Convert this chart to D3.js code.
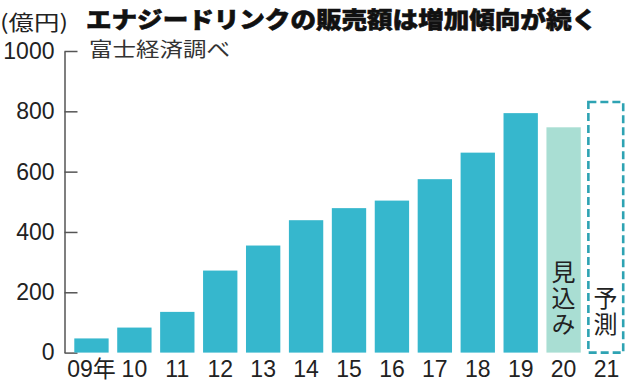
<!DOCTYPE html>
<html><head><meta charset="utf-8">
<script src="https://cdn.jsdelivr.net/npm/d3@7"></script>
<style>
html,body{margin:0;padding:0;background:#fff;}
svg{display:block;}
</style></head>
<body>
<svg id="chart" width="640" height="382"></svg>
<script>
const categories = ["09年","10","11","12","13","14","15","16","17","18","19","20","21"];
const values = [47, 83, 135, 272, 355, 439, 479, 504, 575, 663, 794, 747, 831];
const kinds = ["actual","actual","actual","actual","actual","actual","actual","actual","actual","actual","actual","estimate","forecast"];
const yTicks = [0, 200, 400, 600, 800, 1000];
const notes = {estimate: "見込み", forecast: "予測"};
const title = "エナジードリンクの販売額は増加傾向が続く";
const unitLabel = "(億円)";
const sourceLabel = "富士経済調べ";

const svg = d3.select("#chart");
const jp = "'Noto Sans CJK JP', sans-serif";
const num = "'Liberation Sans', Arial, 'Noto Sans CJK JP', sans-serif";

const x = d3.scaleBand().domain(categories).range([70, 628]).paddingInner(0.2).paddingOuter(0.1);
const y = d3.scaleLinear().domain([0, 1000]).range([352.6, 51]);

const colors = {actual: "#36b7cd", estimate: "#a9ded3", forecast: "#2ea3b3"};

const data = categories.map((c, i) => ({c, v: values[i], k: kinds[i]}));

// y axis
const yAxis = svg.append("g")
  .attr("transform", "translate(64.5,0)")
  .call(d3.axisLeft(y).tickValues(yTicks).tickFormat(d3.format("d"))
    .tickSize(-13).tickSizeOuter(0).tickPadding(10));
yAxis.select(".domain").attr("stroke", "#555").attr("stroke-width", 1.5);
yAxis.selectAll(".tick line").attr("stroke", "#555").attr("stroke-width", 1.5);
yAxis.selectAll(".tick text")
  .attr("font-family", num).attr("font-size", 23).attr("fill", "#222");

// bars
svg.append("g").selectAll("rect.bar")
  .data(data.filter(d => d.k !== "forecast"))
  .join("rect")
  .attr("class", "bar")
  .attr("x", d => x(d.c))
  .attr("width", x.bandwidth())
  .attr("y", d => y(d.v))
  .attr("height", d => y(0) - y(d.v))
  .attr("fill", d => colors[d.k]);

// forecast dashed box
svg.append("g").selectAll("rect.fc")
  .data(data.filter(d => d.k === "forecast"))
  .join("rect")
  .attr("class", "fc")
  .attr("x", d => x(d.c) - 1)
  .attr("width", x.bandwidth() + 0.5)
  .attr("y", d => y(d.v))
  .attr("height", d => y(0) - y(d.v))
  .attr("fill", "none")
  .attr("stroke", colors.forecast)
  .attr("stroke-width", 2.6)
  .attr("stroke-dasharray", "8,4");

// vertical notes
svg.append("g").selectAll("text.note")
  .data(data.filter(d => notes[d.k]))
  .join("text")
  .attr("class", "note")
  .attr("x", d => x(d.c) + x.bandwidth() / 2 - (d.k === "forecast" ? 1 : 0))
  .attr("y", 338)
  .attr("writing-mode", "vertical-rl")
  .attr("text-anchor", "end")
  .attr("letter-spacing", 2)
  .attr("font-family", jp)
  .attr("font-size", 24)
  .attr("fill", "#222")
  .text(d => notes[d.k]);

// x axis labels
const xAxis = svg.append("g")
  .attr("transform", `translate(0,${y(0)})`)
  .call(d3.axisBottom(x).tickSize(0).tickPadding(8));
xAxis.select(".domain").remove();
xAxis.selectAll(".tick text")
  .attr("font-family", num).attr("font-size", 23).attr("fill", "#222");

// title block
svg.append("text")
  .attr("x", 0).attr("y", 30)
  .attr("font-family", jp).attr("font-size", 21).attr("fill", "#222")
  .attr("textLength", 68).attr("lengthAdjust", "spacingAndGlyphs")
  .text(unitLabel);
svg.append("text")
  .attr("x", 86).attr("y", 28)
  .attr("font-family", jp).attr("font-size", 23).attr("font-weight", 900).attr("fill", "#111")
  .attr("stroke", "#111").attr("stroke-width", 0.6)
  .attr("textLength", 511).attr("lengthAdjust", "spacingAndGlyphs")
  .text(title);
svg.append("text")
  .attr("x", 89).attr("y", 57)
  .attr("font-family", jp).attr("font-size", 20).attr("fill", "#333")
  .attr("textLength", 141).attr("lengthAdjust", "spacingAndGlyphs")
  .text(sourceLabel);
</script>
</body></html>
